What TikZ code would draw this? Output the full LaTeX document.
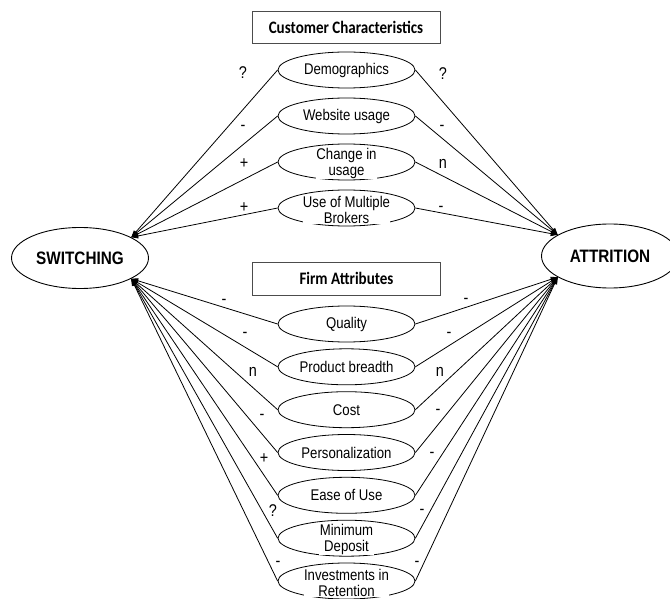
\documentclass[tikz,border=0pt]{standalone}
\usepackage{fontspec}
\setmainfont{Liberation Sans}[FakeStretch=0.85]
\newfontfamily\headfont{Carlito}[FakeStretch=0.86]
\usetikzlibrary{shapes.geometric,arrows.meta}
\begin{document}
\begin{tikzpicture}[x=1pt,y=-1pt,
  factor/.style={ellipse,draw,line width=0.8pt,minimum width=137pt,minimum height=36pt,
    inner sep=0pt,font=\fontsize{15.5}{17}\selectfont},
  ftext/.style={align=center,inner sep=0.3pt,fill=white,font=\fontsize{15.5}{16.5}\selectfont},
  outcome/.style={ellipse,draw,line width=0.9pt,minimum width=137pt,minimum height=61pt,
    inner sep=0pt,font=\fontsize{18}{20}\selectfont\bfseries},
  group/.style={draw=black!70,line width=1pt,minimum width=188pt,minimum height=32pt,
    inner sep=0pt,font=\headfont\fontsize{17.5}{20}\selectfont\bfseries},
  sign/.style={anchor=base,inner sep=0pt,font=\fontsize{17}{18}\selectfont},
  link/.style={line width=0.8pt,-{Triangle[length=7pt,width=5pt]}}
]
\clip (0,0) rectangle (670,599);

% outcomes
\node[outcome] (sw) at (80,258) {SWITCHING};
\node[outcome,minimum height=64pt] (attr) at (610,256) {ATTRITION};

% group headings
\node[group] (cust) at (346,27.5) {Customer Characteristics};
\node[group,minimum height=33pt] (firm) at (346.5,278.5) {Firm Attributes};

% customer characteristics
\node[factor] (demo)  at (346.5,70)  {Demographics};
\node[factor] (web)   at (346.5,116) {Website usage};
\node[factor] (chg)   at (346.5,162) {};
\node[factor] (multi) at (346.5,208) {};
\node[ftext] (chgT)   at (346.5,163.5) {Change in\\usage};
\node[ftext] (multiT) at (346.5,210)   {Use of Multiple\\Brokers};

% firm attributes
\node[factor] (qual)    at (346.5,324)   {Quality};
\node[factor] (breadth) at (346.5,366.8) {Product breadth};
\node[factor] (cost)    at (346.5,409.7) {Cost};
\node[factor] (pers)    at (346.5,452.5) {Personalization};
\node[factor] (ease)    at (346.5,495.3) {Ease of Use};
\node[factor] (mindep)  at (346.5,538.2) {};
\node[factor] (invest)  at (346.5,581)   {};
\node[ftext] (mindepT)  at (346.5,539.5) {Minimum\\Deposit};
\node[ftext] (investT)  at (346.5,583)   {Investments in\\Retention};

% connectors
\foreach \n in {demo,web,chg,multi} {
  \draw[link] (\n.west) -- (sw.22);
  \draw[link] (\n.east) -- (attr.158);
}
\foreach \n in {qual,breadth,cost,pers,ease,mindep,invest} {
  \draw[link] (\n.west) -- (sw.-22);
  \draw[link] (\n.east) -- (attr.202);
}

% signs, switching side
\node[sign] (sa1) at (243,79)    {?};
\node[sign] (sa2) at (243,130.5) {-};
\node[sign] (sa3) at (244,168.5) {+};
\node[sign] (sa4) at (244,212.5) {+};
\node[sign] (sb1) at (224,304.5) {-};
\node[sign] (sb2) at (245,337.5) {-};
\node[sign] (sb3) at (253,376.5) {n};
\node[sign] (sb4) at (262,419.5) {-};
\node[sign] (sb5) at (264,463.5) {+};
\node[sign] (sb6) at (273,516)   {?};
\node[sign] (sb7) at (278,566.5) {-};

% signs, attrition side
\node[sign] (ta1) at (443,80)    {?};
\node[sign] (ta2) at (442,130.5) {-};
\node[sign] (ta3) at (443,168.5) {n};
\node[sign] (ta4) at (441,211.5) {-};
\node[sign] (tb1) at (466,303.5) {-};
\node[sign] (tb2) at (449,337.5) {-};
\node[sign] (tb3) at (440,376.5) {n};
\node[sign] (tb4) at (438,414.5) {-};
\node[sign] (tb5) at (432,457.5) {-};
\node[sign] (tb6) at (422,514.5) {-};
\node[sign] (tb7) at (417,566.5) {-};
\end{tikzpicture}
\end{document}
